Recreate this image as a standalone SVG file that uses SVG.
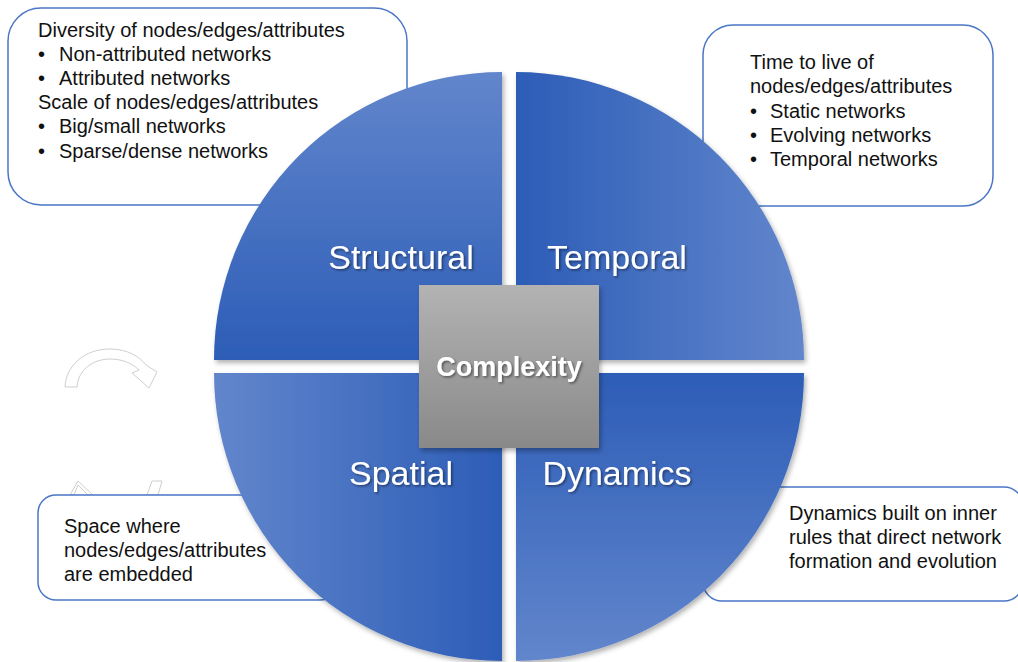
<svg xmlns="http://www.w3.org/2000/svg" width="1018" height="662" viewBox="0 0 1018 662">
<defs>
<style>
.box{fill:#fff;stroke:#4a76c6;stroke-width:1.5}
.t{font-family:"Liberation Sans",Arial,sans-serif;font-size:20px;fill:#111}
.lbl{font-family:"Liberation Sans",Arial,sans-serif;font-size:34px;fill:#fff;text-anchor:middle}
.ctr{font-family:"Liberation Sans",Arial,sans-serif;font-size:27px;font-weight:bold;fill:#fff;text-anchor:middle}
.ghost{fill:#fff;stroke:#cfcfcf;stroke-width:1}
</style>
<linearGradient id="gTL" x1="0" y1="0" x2="0" y2="1"><stop offset="0" stop-color="#6286cc"/><stop offset="1" stop-color="#2d5db7"/></linearGradient>
<linearGradient id="gTR" x1="0" y1="0" x2="1" y2="0"><stop offset="0" stop-color="#2d5db7"/><stop offset="1" stop-color="#6286cc"/></linearGradient>
<linearGradient id="gBR" x1="0" y1="0" x2="0" y2="1"><stop offset="0" stop-color="#2d5db7"/><stop offset="1" stop-color="#6286cc"/></linearGradient>
<linearGradient id="gBL" x1="0" y1="0" x2="1" y2="0"><stop offset="0" stop-color="#6286cc"/><stop offset="1" stop-color="#2d5db7"/></linearGradient>
<linearGradient id="gC" x1="0" y1="0" x2="0" y2="1"><stop offset="0" stop-color="#b3b3b3"/><stop offset="1" stop-color="#898989"/></linearGradient>
<filter id="sh" x="-10%" y="-10%" width="120%" height="120%"><feDropShadow dx="2" dy="3" stdDeviation="2.5" flood-color="#000" flood-opacity="0.3"/></filter>
<filter id="tsh" x="-10%" y="-20%" width="120%" height="140%"><feDropShadow dx="1.5" dy="1.5" stdDeviation="1" flood-color="#000" flood-opacity="0.45"/></filter>
</defs>

<g id="ghost-arrows">
<path class="ghost" d="M65,387 C66,365 85,349 110,349 C128,349 140,357 146,365 L157,372 L149,388 L132,373 L139,370 C133,364 123,359 110,359 C93,359 78,370 77,387 Z"/>
<path class="ghost" d="M70,495 L78,481 L93,495 L88,495 L78,485 L74,495 Z"/>
<path class="ghost" d="M147,495 L152,481 L162,481 L158,495 Z"/>
</g>

<g id="box-structural">
<rect class="box" x="8" y="8" width="399" height="197" rx="33"/>
<text class="t" x="38" y="36.5">Diversity of nodes/edges/attributes</text>
<text class="t" x="38" y="60.7">•</text><text class="t" x="59" y="60.7">Non-attributed networks</text>
<text class="t" x="38" y="84.9">•</text><text class="t" x="59" y="84.9">Attributed networks</text>
<text class="t" x="38" y="109.1">Scale of nodes/edges/attributes</text>
<text class="t" x="38" y="133.3">•</text><text class="t" x="59" y="133.3">Big/small networks</text>
<text class="t" x="38" y="157.5">•</text><text class="t" x="59" y="157.5">Sparse/dense networks</text>
</g>

<g id="box-temporal">
<rect class="box" x="703" y="25" width="290" height="181" rx="30"/>
<text class="t" x="750" y="69">Time to live of</text>
<text class="t" x="750" y="93.3">nodes/edges/attributes</text>
<text class="t" x="750" y="117.6">•</text><text class="t" x="770" y="117.6">Static networks</text>
<text class="t" x="750" y="141.9">•</text><text class="t" x="770" y="141.9">Evolving networks</text>
<text class="t" x="750" y="166.2">•</text><text class="t" x="770" y="166.2">Temporal networks</text>
</g>

<g id="box-spatial">
<rect class="box" x="38" y="495" width="300" height="105" rx="18"/>
<text class="t" x="64" y="533">Space where</text>
<text class="t" x="64" y="557">nodes/edges/attributes</text>
<text class="t" x="64" y="581">are embedded</text>
</g>

<g id="box-dynamics">
<rect class="box" x="703" y="487" width="320" height="114" rx="19"/>
<text class="t" x="789" y="520">Dynamics built on inner</text>
<text class="t" x="789" y="544">rules that direct network</text>
<text class="t" x="789" y="568">formation and evolution</text>
</g>

<g id="connectors"></g>

<g id="q-structural">
<path d="M502,360 L214,360 A288,288 0 0 1 502,72 Z" fill="url(#gTL)" filter="url(#sh)"/>
<text class="lbl" x="401" y="269" filter="url(#tsh)">Structural</text>
</g>
<g id="q-temporal">
<path d="M516,360 L516,72 A288,288 0 0 1 804,360 Z" fill="url(#gTR)" filter="url(#sh)"/>
<text class="lbl" x="617" y="269" filter="url(#tsh)">Temporal</text>
</g>
<g id="q-dynamics">
<path d="M516,373 L804,373 A288,288 0 0 1 516,661 Z" fill="url(#gBR)" filter="url(#sh)"/>
<text class="lbl" x="617" y="485" filter="url(#tsh)">Dynamics</text>
</g>
<g id="q-spatial">
<path d="M502,373 L502,661 A288,288 0 0 1 214,373 Z" fill="url(#gBL)" filter="url(#sh)"/>
<text class="lbl" x="401" y="485" filter="url(#tsh)">Spatial</text>
</g>

<g id="center">
<rect x="419" y="285" width="180" height="163" fill="url(#gC)" filter="url(#sh)"/>
<text class="ctr" x="509" y="376" filter="url(#tsh)">Complexity</text>
</g>
</svg>
